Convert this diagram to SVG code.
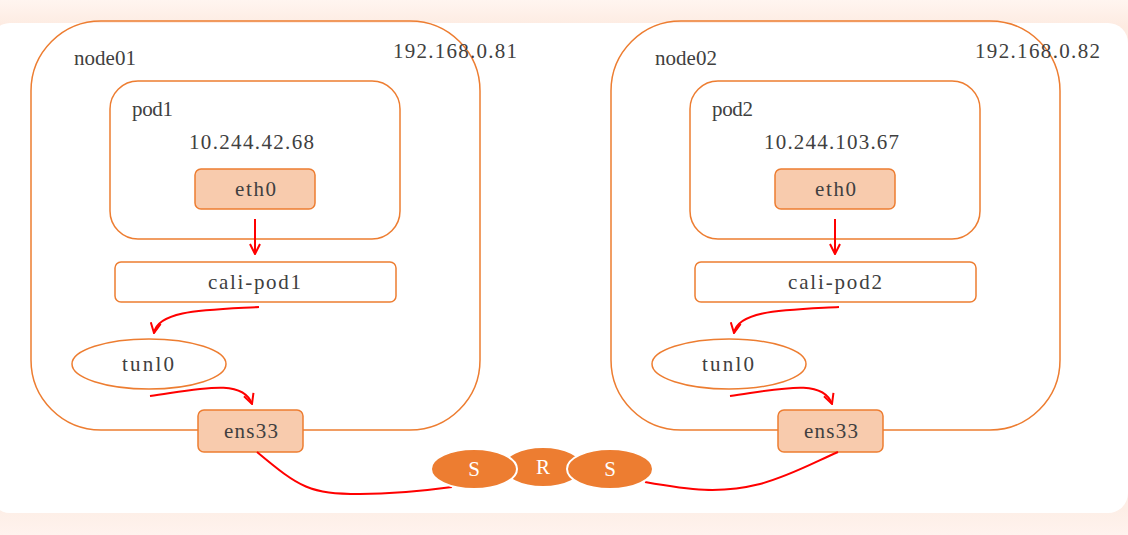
<svg xmlns="http://www.w3.org/2000/svg" width="1128" height="535" viewBox="0 0 1128 535">
<defs>
<linearGradient id="bg" x1="0" y1="0" x2="0" y2="1">
<stop offset="0" stop-color="#fff5f0"/>
<stop offset="0.05" stop-color="#fdebe1"/>
<stop offset="0.95" stop-color="#fdeee6"/>
<stop offset="1" stop-color="#fff3ee"/>
</linearGradient>
<marker id="ah" viewBox="0 0 12 12" refX="11" refY="6" markerWidth="12" markerHeight="12" markerUnits="userSpaceOnUse" orient="auto">
<path d="M1,1 L11,6 L1,11" fill="none" stroke="#ff0000" stroke-width="2"/>
</marker>
<style>
.t{font-family:"Liberation Serif","Noto Sans CJK SC",serif;font-size:21px;fill:#404040}
.cont{fill:none;stroke:#ed7d31;stroke-width:1.5}
.box{fill:#ffffff;stroke:#ed7d31;stroke-width:1.5}
.pk{fill:#f8cbad;stroke:#ed7d31;stroke-width:1.5}
.ell{fill:#ed7d31;stroke:#ffffff;stroke-width:2}
.w{font-family:"Liberation Serif",serif;font-size:21px;fill:#ffffff;text-anchor:middle}
.c{fill:none;stroke:#ff0000;stroke-width:2}
</style>
</defs>
<rect x="0" y="0" width="1128" height="535" fill="url(#bg)"/>
<rect x="-10" y="23" width="1138" height="490" rx="20" fill="#ffffff"/>

<g id="node01">
<rect class="cont" x="31" y="21" width="449" height="409" rx="70"/>
<text class="t" x="74" y="65" textLength="62" lengthAdjust="spacing">node01</text>
<text class="t" x="393" y="58" textLength="124" lengthAdjust="spacing">192.168.0.81</text>
</g>
<g id="pod1">
<rect class="cont" x="110" y="81" width="290" height="158" rx="28"/>
<text class="t" x="132" y="116" textLength="41" lengthAdjust="spacing">pod1</text>
<text class="t" x="189" y="149" textLength="125" lengthAdjust="spacing">10.244.42.68</text>
</g>
<g id="eth0-1">
<rect class="pk" x="195" y="169" width="120" height="40" rx="6"/>
<text class="t" x="235" y="196" textLength="41" lengthAdjust="spacing">eth0</text>
</g>
<g id="cali-pod1">
<rect class="box" x="115" y="262" width="281" height="40" rx="6"/>
<text class="t" x="208" y="289" textLength="93" lengthAdjust="spacing">cali-pod1</text>
</g>
<g id="tunl0-1">
<ellipse class="box" cx="149" cy="364" rx="77" ry="25"/>
<text class="t" x="122" y="371" textLength="52" lengthAdjust="spacing">tunl0</text>
</g>
<g id="ens33-1">
<rect class="pk" x="198" y="410" width="105" height="42" rx="6"/>
<text class="t" x="224" y="438" textLength="54" lengthAdjust="spacing">ens33</text>
</g>

<g id="node02">
<rect class="cont" x="611" y="21" width="449" height="409" rx="70"/>
<text class="t" x="655" y="65" textLength="62" lengthAdjust="spacing">node02</text>
<text class="t" x="975" y="58" textLength="125" lengthAdjust="spacing">192.168.0.82</text>
</g>
<g id="pod2">
<rect class="cont" x="690" y="81" width="290" height="158" rx="28"/>
<text class="t" x="712" y="116" textLength="41" lengthAdjust="spacing">pod2</text>
<text class="t" x="764" y="149" textLength="135" lengthAdjust="spacing">10.244.103.67</text>
</g>
<g id="eth0-2">
<rect class="pk" x="775" y="169" width="120" height="40" rx="6"/>
<text class="t" x="815" y="196" textLength="41" lengthAdjust="spacing">eth0</text>
</g>
<g id="cali-pod2">
<rect class="box" x="695" y="262" width="281" height="40" rx="6"/>
<text class="t" x="788" y="289" textLength="94" lengthAdjust="spacing">cali-pod2</text>
</g>
<g id="tunl0-2">
<ellipse class="box" cx="729" cy="364" rx="77" ry="25"/>
<text class="t" x="702" y="371" textLength="52" lengthAdjust="spacing">tunl0</text>
</g>
<g id="ens33-2">
<rect class="pk" x="778" y="410" width="105" height="42" rx="6"/>
<text class="t" x="804" y="438" textLength="54" lengthAdjust="spacing">ens33</text>
</g>

<g id="connectors">
<path class="c" d="M255,219 L255,254" marker-end="url(#ah)"/>
<path class="c" d="M259,307 C205,310 158,310 154,333" marker-end="url(#ah)"/>
<path class="c" d="M150,396 C200,389 243,378 252,404" marker-end="url(#ah)"/>
<path class="c" d="M835,219 L835,254" marker-end="url(#ah)"/>
<path class="c" d="M839,307 C785,310 738,310 734,333" marker-end="url(#ah)"/>
<path class="c" d="M730,396 C780,389 823,378 832,404" marker-end="url(#ah)"/>
<path class="c" d="M257,452 C300,488 310,494 360,494 C400,494 430,490 452,487"/>
<path class="c" d="M645,482 C690,490 720,494 760,484 C790,476 815,462 838,452"/>
</g>

<g id="tunnel">
<ellipse class="ell" cx="543" cy="467" rx="40" ry="20"/>
<ellipse class="ell" cx="474" cy="469" rx="43" ry="20"/>
<ellipse class="ell" cx="610" cy="469" rx="43" ry="20"/>
<text class="w" x="474" y="476">S</text>
<text class="w" x="543" y="474">R</text>
<text class="w" x="610" y="476">S</text>
</g>
</svg>
